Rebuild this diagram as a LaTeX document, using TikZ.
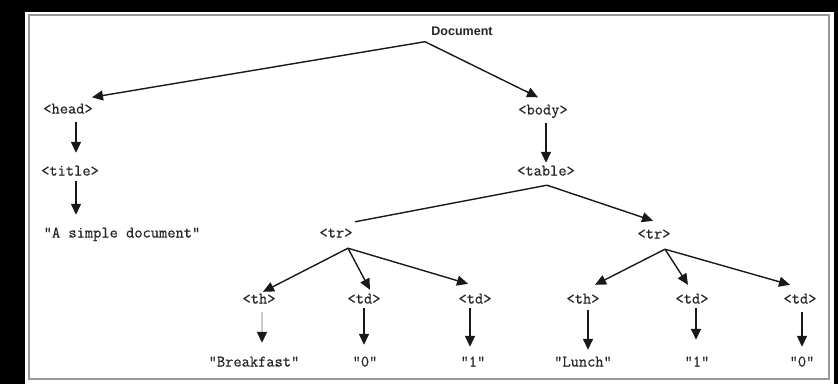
\documentclass[tikz,border=0pt]{standalone}
\usepackage{fontspec}
\setsansfont{Liberation Sans}
\setmonofont[FakeBold=0.6]{Latin Modern Mono}
\usetikzlibrary{arrows.meta,calc}

\begin{document}
\begin{tikzpicture}[
            x=1pt, y=-1pt,
            every node/.style={inner sep=0pt, text height=10pt, text depth=3pt, text=black!85},
            tag/.style={font=\ttfamily\fontsize{16}{18}\selectfont},
            rootname/.style={font=\sffamily\bfseries\fontsize{12.5}{14}\selectfont},
            link/.style={draw=black!90, line width=1.4pt, -{Triangle[length=11pt,width=10pt]}},
            bare/.style={draw=black!90, line width=1.4pt}
        ]
        \useasboundingbox (0,0) rectangle (838,384);

        % Frame
        \fill[black] (0,0) rectangle (838,384);
        \fill[white] (25,12) rectangle (834,384);
        \draw[black!40, line width=1.5pt] (29,15) rectangle (829,379);

        % Root
        \node[rootname] (doc) at (462,32) {Document};

        % Head branch
        \node[tag] (head) at (68,110) {<head>};
        \node[tag] (title) at (70,172) {<title>};
        \node[tag] (simple) at (122,234) {"A simple document"};

        % Body branch
        \node[tag] (body) at (543,111) {<body>};
        \node[tag] (table) at (546,172) {<table>};
        \node[tag] (trl) at (336,234) {<tr>};
        \node[tag] (trr) at (654,235) {<tr>};

        % Cells
        \node[tag] (th1) at (259,300) {<th>};
        \node[tag] (td1) at (364,300) {<td>};
        \node[tag] (td2) at (475,300) {<td>};
        \node[tag] (th2) at (583,300) {<th>};
        \node[tag] (td3) at (692,300) {<td>};
        \node[tag] (td4) at (800,300) {<td>};

        % Cell texts
        \node[tag] (breakfast) at (254,363) {"Breakfast"};
        \node[tag] (zeroa) at (365,363) {"0"};
        \node[tag] (onea) at (473,363) {"1"};
        \node[tag] (lunch) at (583,363) {"Lunch"};
        \node[tag] (oneb) at (697,363) {"1"};
        \node[tag] (zerob) at (802,363) {"0"};

        % Root edges
        \draw[link] ($(doc.south)+(-37,3)$) -- ($(head.north)+(24,-6)$);
        \draw[link] ($(doc.south)+(-37,3)$) -- ($(body.north)+(-5,-7)$);
        \draw[link] ($(head.south)+(8,5.5)$) -- ($(title.north)+(6,-12.5)$);
        \draw[link] ($(title.south)+(6,2)$) -- ($(title.south |- simple.north)+(6,-12.5)$);
        \draw[link] ($(body.south)+(3,5)$) -- ($(table.north)+(0,-2.5)$);

        % Rows
        \draw[bare] ($(table.south)+(1,6.5)$) -- ($(trl.north)+(19,-5.5)$);
        \draw[link] ($(table.south)+(1,6.5)$) -- ($(trr.north)+(-1,-7.5)$);

        \draw[link] ($(trl.south)+(12,7.5)$) -- ($(th1.north)+(4,-1.5)$);
        \draw[link] ($(trl.south)+(12,7.5)$) -- ($(td1.north)+(6,-3.5)$);
        \draw[link] ($(trl.south)+(12,7.5)$) -- ($(td2.north)+(-7,-9.5)$);
        \draw[link] ($(trr.south)+(11,7.5)$) -- ($(th2.north)+(12,-8.5)$);
        \draw[link] ($(trr.south)+(11,7.5)$) -- ($(td3.north)+(-4,-8.5)$);
        \draw[link] ($(trr.south)+(11,7.5)$) -- ($(td4.north)+(-10,-8.5)$);

        % Cell contents
        \draw[link, draw=black!20, -{Triangle[length=11pt,width=10pt,color=black!90]}]
            ($(th1.south)+(3,5)$) -- ($(th1.south |- breakfast.north)+(3,-13.5)$);
        \draw[link] ($(td1.south)+(0,1.5)$) -- ($(td1.south |- zeroa.north)+(0,-11.5)$);
        \draw[link] ($(td2.south)+(-5,1.5)$) -- ($(td2.south |- onea.north)+(-5,-9.5)$);
        \draw[link] ($(th2.south)+(5,3.5)$) -- ($(th2.south |- lunch.north)+(5,-6.5)$);
        \draw[link] ($(td3.south)+(4,1.5)$) -- ($(td3.south |- oneb.north)+(4,-16.5)$);
        \draw[link] ($(td4.south)+(2,5.5)$) -- ($(td4.south |- zerob.north)+(2,-9.5)$);
        \end{tikzpicture}
\end{document}
